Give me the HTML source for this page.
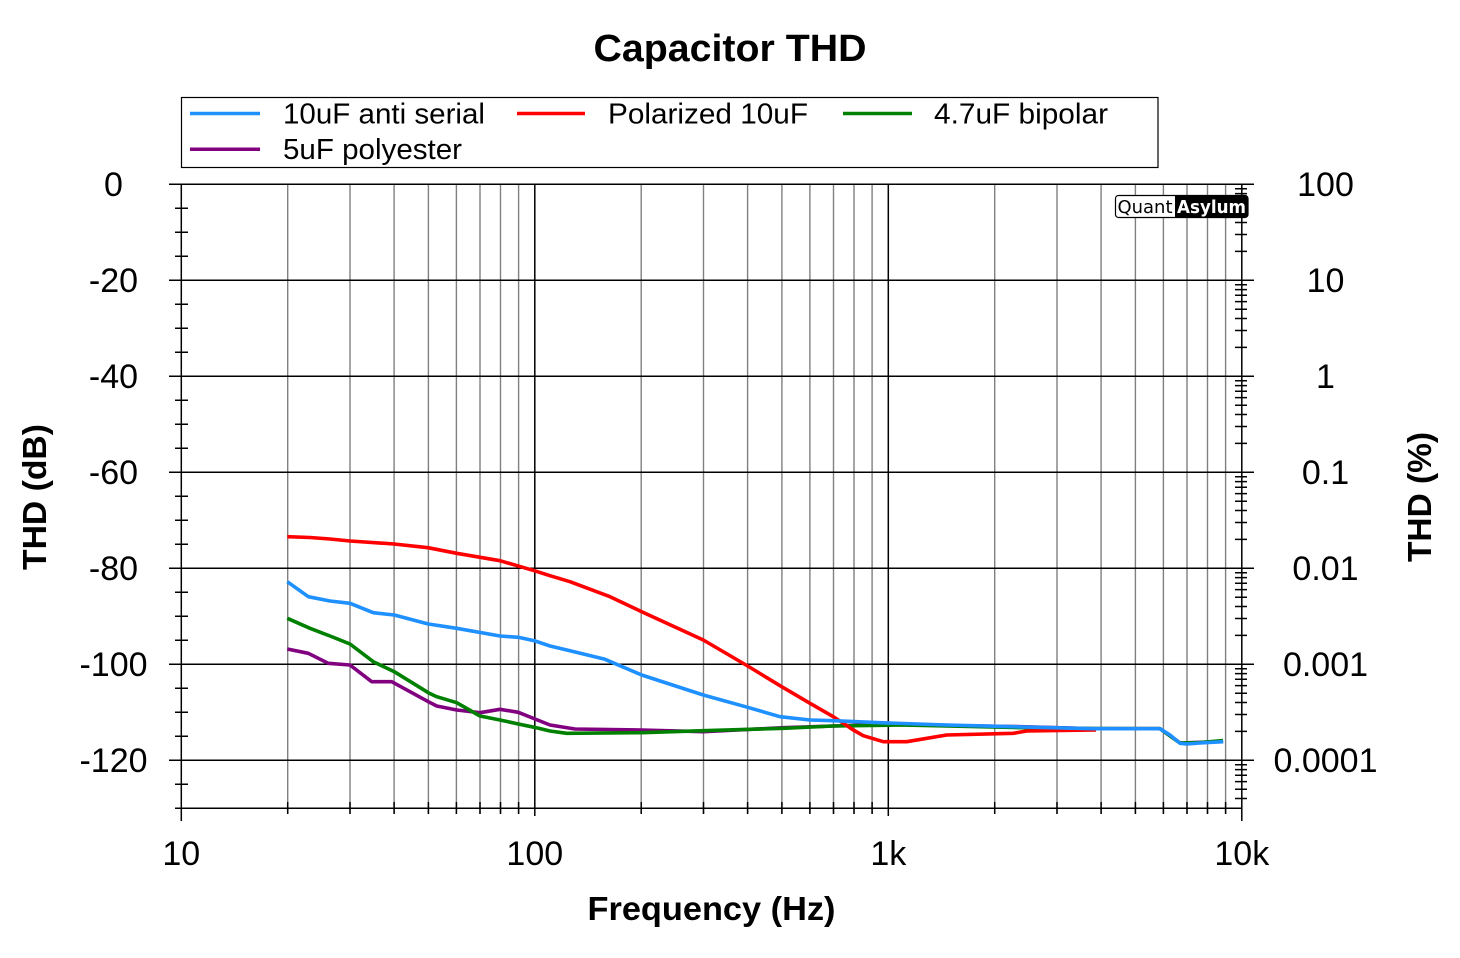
<!DOCTYPE html>
<html><head><meta charset="utf-8"><style>
html,body{margin:0;padding:0;background:#fff;}
svg{display:block;}
text{font-family:"Liberation Sans",Arial,sans-serif;fill:#000;}
</style></head><body>
<svg width="1460" height="958" viewBox="0 0 1460 958" xmlns="http://www.w3.org/2000/svg">
<rect width="1460" height="958" fill="#fff"/>
<text x="730" y="61" font-size="38" font-weight="bold" text-anchor="middle" textLength="273" lengthAdjust="spacingAndGlyphs">Capacitor THD</text>

<!-- legend -->
<rect x="181.5" y="97.5" width="976.5" height="70" fill="#fff" stroke="#000" stroke-width="1.2"/>
<line x1="190" y1="113.5" x2="260" y2="113.5" stroke="#1E90FF" stroke-width="3.5"/>
<text x="283" y="123.5" font-size="29" textLength="202" lengthAdjust="spacingAndGlyphs">10uF anti serial</text>
<line x1="517" y1="113.5" x2="585" y2="113.5" stroke="#FF0000" stroke-width="3.5"/>
<text x="608" y="123.5" font-size="29" textLength="200" lengthAdjust="spacingAndGlyphs">Polarized 10uF</text>
<line x1="843" y1="113.5" x2="912" y2="113.5" stroke="#008000" stroke-width="3.5"/>
<text x="934" y="123.5" font-size="29" textLength="174" lengthAdjust="spacingAndGlyphs">4.7uF bipolar</text>
<line x1="190" y1="149.3" x2="260" y2="149.3" stroke="#800080" stroke-width="3.5"/>
<text x="283" y="158.8" font-size="29" textLength="179" lengthAdjust="spacingAndGlyphs">5uF polyester</text>

<!-- minor vertical gridlines -->
<g stroke="#808080" stroke-width="1.4" fill="none">
<path d="M287.7 184.3V814 M350 184.3V814 M394.1 184.3V814 M428.4 184.3V814 M456.4 184.3V814 M480 184.3V814 M500.5 184.3V814 M518.6 184.3V814
M641.2 184.3V814 M703.5 184.3V814 M747.6 184.3V814 M781.9 184.3V814 M809.9 184.3V814 M833.5 184.3V814 M854 184.3V814 M872.1 184.3V814
M994.7 184.3V814 M1057 184.3V814 M1101.1 184.3V814 M1135.4 184.3V814 M1163.4 184.3V814 M1187 184.3V814 M1207.5 184.3V814 M1225.6 184.3V814"/>
</g>
<g stroke="#000" stroke-width="1.5" fill="none">
<path d="M287.7 802V814 M350 802V814 M394.1 802V814 M428.4 802V814 M456.4 802V814 M480 802V814 M500.5 802V814 M518.6 802V814
M641.2 802V814 M703.5 802V814 M747.6 802V814 M781.9 802V814 M809.9 802V814 M833.5 802V814 M854 802V814 M872.1 802V814
M994.7 802V814 M1057 802V814 M1101.1 802V814 M1135.4 802V814 M1163.4 802V814 M1187 802V814 M1207.5 802V814 M1225.6 802V814"/>
<!-- major vertical -->
<path d="M534.8 184.3V816 M888.3 184.3V816"/>
<!-- horizontal gridlines -->
<path d="M169 184.3H1254 M169 280.3H1254 M169 376.3H1254 M169 472.3H1254 M169 568.3H1254 M169 664.3H1254 M169 760.3H1254"/>
<!-- bottom axis -->
<path d="M175 808.3H1241.8"/>
<!-- left & right axes -->
<path d="M181.3 184.3V821 M1241.8 184.3V821"/>
<!-- left minor ticks -->
<path d="M175 208.3H188 M175 232.3H188 M175 256.3H188 M175 304.3H188 M175 328.3H188 M175 352.3H188 M175 400.3H188 M175 424.3H188 M175 448.3H188 M175 496.3H188 M175 520.3H188 M175 544.3H188 M175 592.3H188 M175 616.3H188 M175 640.3H188 M175 688.3H188 M175 712.3H188 M175 736.3H188 M175 784.3H188"/>
<!-- right minor ticks -->
<path d="M1235 188.7H1247 M1235 193.6H1247 M1235 199.2H1247 M1235 205.6H1247 M1235 213.2H1247 M1235 222.5H1247 M1235 234.5H1247 M1235 251.4H1247
M1235 284.7H1247 M1235 289.6H1247 M1235 295.2H1247 M1235 301.6H1247 M1235 309.2H1247 M1235 318.5H1247 M1235 330.5H1247 M1235 347.4H1247
M1235 380.7H1247 M1235 385.6H1247 M1235 391.2H1247 M1235 397.6H1247 M1235 405.2H1247 M1235 414.5H1247 M1235 426.5H1247 M1235 443.4H1247
M1235 476.7H1247 M1235 481.6H1247 M1235 487.2H1247 M1235 493.6H1247 M1235 501.2H1247 M1235 510.5H1247 M1235 522.5H1247 M1235 539.4H1247
M1235 572.7H1247 M1235 577.6H1247 M1235 583.2H1247 M1235 589.6H1247 M1235 597.2H1247 M1235 606.5H1247 M1235 618.5H1247 M1235 635.4H1247
M1235 668.7H1247 M1235 673.6H1247 M1235 679.2H1247 M1235 685.6H1247 M1235 693.2H1247 M1235 702.5H1247 M1235 714.5H1247 M1235 731.4H1247
M1235 764.7H1247 M1235 769.6H1247 M1235 775.2H1247 M1235 781.6H1247 M1235 789.2H1247 M1235 798.5H1247"/>
</g>

<!-- logo -->
<rect x="1115.5" y="195.5" width="132.5" height="22" rx="3" fill="#fff" stroke="#000" stroke-width="1.2"/>
<path d="M1175 195.5H1245a3 3 0 0 1 3 3V214.5a3 3 0 0 1 -3 3H1175Z" fill="#000"/>
<text x="1117.5" y="213" font-size="18" style="font-family:'DejaVu Sans',sans-serif" textLength="55" lengthAdjust="spacingAndGlyphs">Quant</text>
<text x="1177" y="213" font-size="18" font-weight="bold" fill="#fff" style="font-family:'DejaVu Sans',sans-serif;fill:#fff" textLength="69" lengthAdjust="spacingAndGlyphs">Asylum</text>

<!-- series -->
<g fill="none" stroke-width="3.6" stroke-linejoin="round" stroke-linecap="butt">
<polyline stroke="#800080" points="287.3,649 308.3,653.3 328.3,663.3 350,665 371.7,681.7 391.7,681.7 428.3,701.7 436.7,706 456.7,710 480,712.7 500,709.3 518.3,712.3 540,721 550,725 575,729 641.7,730 703.3,731.7 783.3,727.7 833.3,726 900,724 946.7,725.5 1013,726.5 1093,728.7 1160,728.7 1180,743 1223,741.5"/>
<polyline stroke="#008000" points="287.3,618.3 310,628.3 330,636 350,644 373.3,661.7 394.3,671.7 428.3,692.7 436.7,696.7 456.7,702.7 480,716 500,720 518.3,724 534.3,727.3 550,731 566.7,733.3 641.7,732.7 703.3,730.7 783.3,728.3 833.3,726 900,725 946.7,726 1013,727.5 1093,728.5 1160,728.7 1180,743 1200,742.5 1223,740.5"/>
<polyline stroke="#FF0000" points="287.3,536.7 310,537.5 330,539 350,541 394,544 428,547.7 456.7,553.3 500,560.7 534.3,570.7 550,575.7 570,581.7 610,596.7 641.7,611.7 703.3,640 747.7,666 781.7,686.7 810,703.3 833.3,716.7 843.3,723.3 853.3,730 863.3,735.7 883.3,741.7 906.7,741.7 946.7,735 1013.3,733.3 1026.7,731 1096,730"/>
<polyline stroke="#1E90FF" points="287.3,581.7 308.3,596.7 330,601 350,603.3 373.3,612.7 394.3,615 428.3,624 456.7,628.3 500,636 518.3,637.3 534.3,640.7 550,646 570,650.7 605,659.3 641.7,675 703.3,695 747.7,707.3 780,716.7 810,720 833.3,720.7 880,722.7 946.7,725 1013,726.7 1093,728.7 1160,728.7 1170,735 1180,743.3 1186.7,744 1200,743 1223.3,741.7"/>
</g>

<!-- left tick labels -->
<g font-size="34" text-anchor="middle">
<text x="113.5" y="196">0</text>
<text x="113.5" y="292">-20</text>
<text x="113.5" y="388">-40</text>
<text x="113.5" y="484">-60</text>
<text x="113.5" y="580">-80</text>
<text x="113.5" y="676">-100</text>
<text x="113.5" y="772">-120</text>
<!-- right -->
<text x="1325.5" y="196">100</text>
<text x="1325.5" y="292">10</text>
<text x="1325.5" y="388">1</text>
<text x="1325.5" y="484">0.1</text>
<text x="1325.5" y="580">0.01</text>
<text x="1325.5" y="676">0.001</text>
<text x="1325.5" y="772">0.0001</text>
<!-- x -->
<text x="181.3" y="865">10</text>
<text x="534.8" y="865">100</text>
<text x="888.3" y="865">1k</text>
<text x="1241.8" y="865">10k</text>
</g>

<!-- axis titles -->
<text x="711.5" y="920" font-size="33" font-weight="bold" text-anchor="middle" textLength="248" lengthAdjust="spacingAndGlyphs">Frequency (Hz)</text>
<text transform="translate(46,497) rotate(-90)" font-size="33" font-weight="bold" text-anchor="middle" textLength="146" lengthAdjust="spacingAndGlyphs">THD (dB)</text>
<text transform="translate(1431,497) rotate(-90)" font-size="33" font-weight="bold" text-anchor="middle" textLength="130" lengthAdjust="spacingAndGlyphs">THD (%)</text>
</svg>
</body></html>
